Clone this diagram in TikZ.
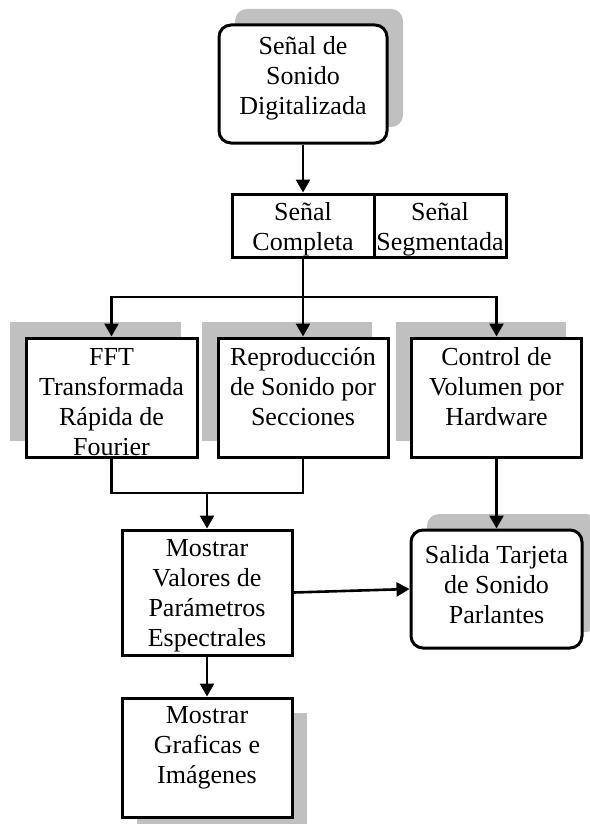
\documentclass[tikz,border=0pt]{standalone}
\usepackage{fontspec}
\setmainfont{Liberation Serif}
\usetikzlibrary{arrows.meta, shadows, positioning}
\definecolor{shadowgray}{HTML}{C0C0C0}

% box text, top aligned: [first baseline]{width}{height}{lines}
\newcommand{\boxtext}[4][27pt]{\parbox[c][#3][t]{#2}{\centering\rule{0pt}{#1}#4}}

\begin{document}
\begin{tikzpicture}[
  x=1pt, y=-1pt,
  font=\fontsize{26}{30}\selectfont,
  box/.style={
    draw, fill=white, line width=3pt, inner sep=0pt
  },
  rbox/.style={box, rounded corners=12pt},
  shadow ne/.style={general shadow={fill=shadowgray, shadow xshift=16pt, shadow yshift=16pt}},
  shadow nw/.style={general shadow={fill=shadowgray, shadow xshift=-16pt, shadow yshift=16pt}},
  shadow se/.style={general shadow={fill=shadowgray, shadow xshift=15pt, shadow yshift=-15pt}},
  line/.style={line width=2.6pt},
  link/.style={line, -{Triangle[length=13pt, width=14pt]}}
]
\useasboundingbox (0,0) rectangle (589,824);

% Input signal
\node[rbox, shadow ne] (senal) at (303,84) {\boxtext[30pt]{168pt}{118pt}{Señal de\\Sonido\\Digitalizada}};

% Signal mode
\node[box] (completa) at (303,225.5) {\boxtext[26pt]{142pt}{63pt}{Señal\\Completa}};
\node[box, right=-3pt of completa] (segmentada) {\boxtext[26pt]{132pt}{63pt}{Señal\\Segmentada}};

% Processing
\node[box, shadow nw] (fft) at (111.5,397.5) {\boxtext{171pt}{119pt}{FFT\\Transformada\\Rápida de\\Fourier}};
\node[box, shadow nw] (repro) at (303,397.5) {\boxtext{170pt}{119pt}{Reproducción\\de Sonido por\\Secciones}};
\node[box, shadow nw] (volumen) at (496.5,397.5) {\boxtext{170pt}{119pt}{Control de\\Volumen por\\Hardware}};

% Output
\node[box] (valores) at (207,592.5) {\boxtext[26pt]{170pt}{125pt}{Mostrar\\Valores de\\Parámetros\\Espectrales}};
\node[rbox, shadow ne] (salida) at (496.5,589) {\boxtext[33pt]{171pt}{118pt}{Salida Tarjeta\\de Sonido\\Parlantes}};
\node[box, shadow se] (graficas) at (207,757.5) {\boxtext[25pt]{170pt}{119pt}{Mostrar\\Graficas e\\Imágenes}};

\coordinate (split) at (303,297);
\coordinate (join) at (207,493);

% Connections
\draw[link] (senal.south) -- (completa.north);
\draw[line] (completa.south) -- (split);
\draw[link] (split) -| (fft.north);
\draw[link] (split) -- (repro.north);
\draw[link] (split) -| (volumen.north);
\draw[line] (fft.south) |- (join);
\draw[line] (repro.south) |- (join);
\draw[link] (join) -- (valores.north);
\draw[link] (volumen.south) -- (salida.north);
\draw[link] (valores.east) -- (salida.west);
\draw[link] (valores.south) -- (graficas.north);

\end{tikzpicture}
\end{document}
